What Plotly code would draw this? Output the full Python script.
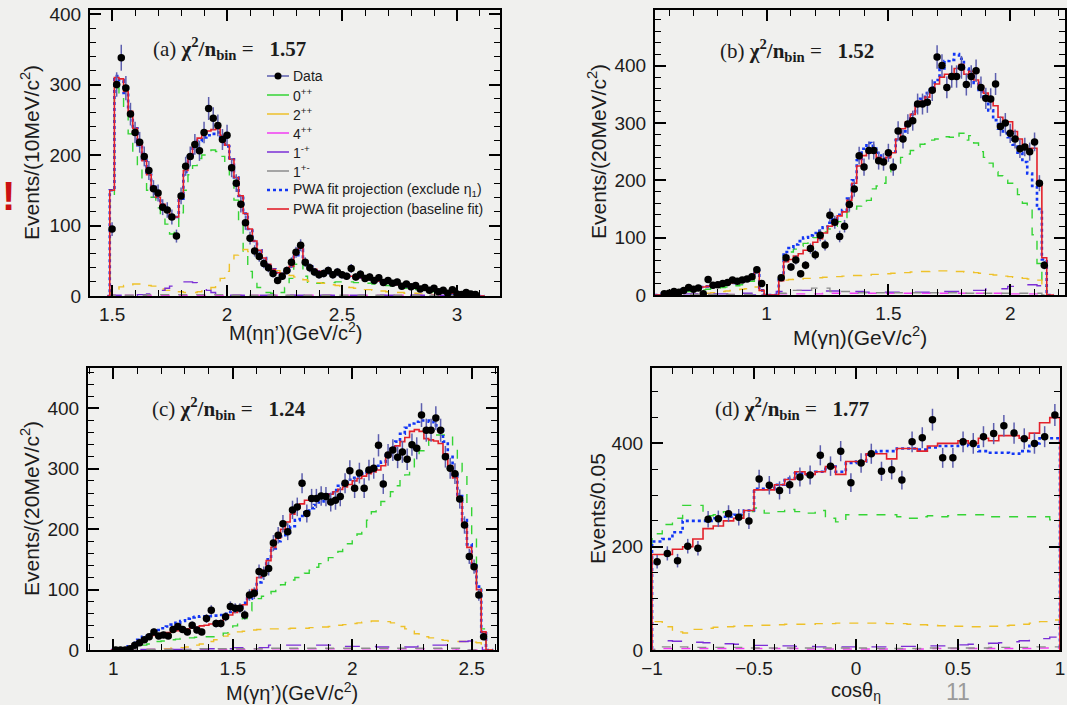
import numpy as np
import plotly.graph_objects as go

# ---------------- data ----------------
# Panel (a): M(eta eta')  fits on bins 1.48 .. 3.12 (step 0.02), data 1.50 .. 3.08
a_fit_start, a_data_start, a_step = 1.48, 1.50, 0.02
a_red = [0,150,310,308,290,262,238,214,192,172,
         155,140,130,120,110,112,140,178,200,214,
         224,230,234,236,237,228,214,194,168,142,
         117,95,78,65,54,45,38,33,31,34,
         42,60,68,50,42,38,35,34,33,32,
         31,30,29,28,27,26,24,23,22,21,
         20,18,17,16,15,14,13,12,11,10,
         9,8,7,6,5,4,4,3,2,2,
         1,0,0]
a_blue = [0,150,312,306,288,262,238,214,192,172,
          155,140,130,120,110,112,138,176,198,212,
          220,225,228,230,232,226,212,194,168,142,
          117,95,78,65,54,45,38,33,31,34,
          42,58,66,50,42,38,35,34,33,32,
          31,30,29,28,27,26,24,23,22,21,
          20,18,17,16,15,14,13,12,11,10,
          9,8,7,6,5,4,4,3,2,2,
          1,0,0]
a_green = [0,140,295,285,262,230,200,180,162,150,
           140,125,115,102,88,90,118,150,172,185,
           195,200,205,207,205,198,185,165,136,100,
           60,35,20,12,8,5,4,3,5,12,
           25,45,50,28,18,18,18,19,19,19,
           20,20,20,20,19,19,18,18,17,17,
           16,15,14,13,12,11,10,9,8,8,
           7,6,5,5,4,3,3,2,2,1,
           1,0,0]
a_yellow = [0,5,10,13,15,16,17,17,16,15,
            14,12,10,8,7,6,6,5,5,5,
            6,7,9,12,17,25,35,47,58,65,
            66,63,58,53,48,43,39,36,33,31,
            29,27,25,23,21,20,19,18,17,16,
            15,14,13,12,11,10,9,9,8,7,
            7,6,6,5,5,4,4,4,3,3,
            3,2,2,2,2,1,1,1,1,0,
            0,0,0]
a_purple = [0,1,1,1,1,1,1,2,2,3,
            4,6,8,11,14,17,19,20,20,19,
            16,12,8,5,3,2,1,1,1,1,
            1,1,1,1,1,1,1,1,1,1,
            1,1,1,1,1,1,1,1,1,1,
            1,1,1,1,1,1,1,1,1,1,
            1,1,1,1,1,1,1,1,1,1,
            1,1,1,1,1,1,1,1,1,1,
            0,0,0]
a_small_x = [1.48, 1.50, 1.8, 2.2, 2.6, 3.0, 3.1]
a_magenta = [0, 1, 1, 1, 1, 1, 0]
a_gray = [0, 1, 2, 1, 1, 1, 0]
a_data = [95,300,338,295,258,232,218,198,178,152,
          146,126,122,112,85,142,184,198,215,206,
          232,266,252,242,222,228,182,160,130,104,
          82,64,56,46,40,32,22,28,36,48,
          62,72,48,40,34,30,32,36,30,34,
          30,28,39,27,31,25,27,22,26,19,
          22,18,20,14,17,13,15,10,12,8,
          11,6,8,4,9,3,2,5,3,2]

# Panel (b): M(gamma eta)  fits on 0.54 .. 2.18, data 0.58 .. 2.14
b_fit_start, b_data_start, b_step = 0.54, 0.58, 0.02
b_red = [0,0,2,4,5,7,9,10,12,13,
         14,15,16,17,18,20,21,23,25,27,
         30,40,8,0,0,0,25,58,62,68,
         72,78,84,92,98,108,120,128,138,145,
         165,195,225,243,250,248,240,233,240,248,
         272,290,302,315,330,338,345,355,368,380,
         385,378,395,402,385,390,375,365,352,342,
         330,310,300,302,285,272,262,256,256,195,
         65,0,0]
b_blue = [0,0,2,4,5,7,9,10,12,13,
          14,15,16,17,18,20,21,23,25,27,
          32,42,8,0,0,0,30,75,82,88,
          94,100,104,108,112,118,126,132,140,148,
          168,200,235,255,265,260,248,238,240,250,
          270,285,300,315,330,342,352,362,375,395,
          408,410,420,412,395,385,370,355,340,322,
          305,290,282,275,262,248,232,212,190,150,
          62,0,0]
b_green = [0,0,1,2,3,4,5,6,7,8,
           9,10,11,12,13,14,15,16,18,20,
           24,32,5,0,0,0,30,70,75,80,
           85,90,95,100,105,110,115,120,128,135,
           145,150,155,158,165,185,190,195,215,222,
           230,240,246,252,258,263,268,270,272,274,
           276,275,272,282,270,278,265,250,240,230,
           215,208,200,195,185,175,160,150,105,55,
           15,0,0]
b_yellow = [0,0,0,0,0,0,0,0,1,1,
            2,3,4,5,6,7,8,9,10,11,
            12,14,3,0,0,0,25,26,27,28,
            28,29,29,30,30,31,31,32,32,33,
            33,34,34,35,35,36,36,37,37,38,
            38,39,39,40,40,41,41,42,42,42,
            42,42,41,41,40,40,39,38,37,36,
            35,34,33,32,31,30,29,28,27,26,
            10,0,0]
b_purple_x = [0.54, 0.60, 0.70, 0.80, 0.90, 0.98, 1.02, 1.06, 1.15, 1.25, 1.35, 1.45,
              1.55, 1.65, 1.75, 1.85, 1.95, 2.03, 2.09, 2.13, 2.16]
b_purple = [0, 1, 2, 2, 3, 0, 0, 6, 8, 7, 6, 5, 5, 5, 6, 8, 11, 15, 18, 16, 0]
b_gray_x = [0.54, 0.70, 0.90, 1.00, 1.06, 1.15, 1.22, 1.30, 1.45, 1.70, 1.90, 2.10, 2.16]
b_gray = [0, 1, 1, 0, 3, 8, 12, 6, 4, 4, 3, 3, 0]
b_magenta_x = [0.54, 0.90, 1.00, 1.06, 1.40, 1.80, 2.13, 2.16]
b_magenta = [0, 1, 0, 2, 3, 3, 2, 0]
b_data = [2,3,6,5,8,13,10,12,2,27,
          17,18,20,22,26,24,26,28,32,44,
          20,None,None,None,30,65,49,61,37,52,
          81,70,104,87,139,127,102,120,158,185,
          243,223,252,252,234,232,248,223,286,272,
          298,304,333,333,336,357,415,400,362,381,
          381,397,367,381,391,362,343,342,368,294,
          300,282,272,255,258,250,267,195,52]

# Panel (c): M(gamma eta')  fits on 0.99 .. 2.59, data 1.01 .. 2.55
c_fit_start, c_data_start, c_step = 0.99, 1.01, 0.02
c_red = [0,0,0,2,5,10,14,18,21,24,
         26,28,29,31,32,34,35,37,38,40,
         41,43,45,48,53,58,62,68,75,88,
         100,120,132,148,170,185,200,212,225,235,
         242,248,252,252,254,256,258,262,266,270,
         274,280,284,288,292,295,298,305,320,330,
         338,345,352,362,365,362,350,348,346,342,
         325,305,285,250,210,170,136,100,30,0,
         0]
c_blue = [0,0,0,2,6,12,17,22,26,30,
          33,36,39,42,45,48,52,54,55,56,
          56,56,57,58,60,63,66,72,78,85,
          95,112,130,150,168,180,188,195,205,215,
          222,228,235,240,246,252,258,265,272,278,
          282,285,288,292,296,300,305,312,322,333,
          345,358,368,375,378,380,380,378,372,365,
          345,320,290,255,215,175,140,105,30,0,
          0]
c_green = [0,0,0,1,3,5,7,8,10,12,
           14,15,16,17,18,19,20,20,21,21,
           22,22,22,23,28,33,40,46,52,65,
           80,85,89,93,97,100,108,112,116,120,
           124,127,132,137,143,148,153,158,163,170,
           176,182,192,201,215,229,238,246,254,262,
           272,282,290,300,318,330,339,348,356,356,
           356,355,340,315,295,240,185,110,35,0,
           0]
c_yellow = [0,0,0,0,0,0,0,1,1,1,
            2,2,2,3,3,4,5,6,8,10,
            12,14,17,20,23,26,28,30,31,32,
            33,34,34,35,35,35,35,35,36,36,
            36,36,37,37,38,38,39,40,41,42,
            43,44,45,46,47,48,48,48,47,45,
            42,39,35,31,27,24,22,20,18,17,
            16,15,15,14,14,14,13,12,10,0,
            0]
c_purple_x = [0.99, 1.20, 1.40, 1.60, 1.70, 1.85, 2.00, 2.20, 2.35, 2.45, 2.52, 2.57]
c_purple = [0, 1, 2, 4, 8, 8, 6, 5, 8, 14, 15, 0]
c_gray_x = [0.99, 1.20, 1.50, 1.80, 2.10, 2.40, 2.57]
c_gray = [0, 1, 2, 3, 3, 3, 0]
c_magenta_x = [0.99, 1.30, 1.80, 2.30, 2.57]
c_magenta = [0, 1, 2, 2, 0]
c_data = [0,0,0,2,8,12,17,22,30,23,
          25,23,34,39,34,30,41,33,30,52,
          66,44,44,55,72,69,69,58,91,94,
          130,127,135,177,190,209,196,232,237,276,
          226,251,251,255,254,245,248,254,276,297,
          268,293,268,298,301,339,275,323,331,319,
          328,316,340,334,389,364,364,384,364,320,
          301,292,250,207,155,138,91,22]

# Panel (d): cos(theta_eta), 40 bins of 0.05 (plus empty edge bins)
d_fit_start, d_data_start, d_step = -1.025, -0.975, 0.05
d_red = [0,
         185,185,195,200,215,235,240,250,255,270,
         310,310,320,330,345,340,345,355,340,365,
         365,380,380,370,390,390,385,395,400,400,
         405,400,410,405,415,415,410,420,440,450,
         0]
d_blue = [0,
          210,215,228,250,250,250,255,258,262,270,
          312,312,320,332,342,340,345,355,345,362,
          365,378,385,385,390,390,388,392,395,395,
          398,395,385,382,382,380,385,400,410,410,
          0]
d_green = [0,
           225,243,255,280,280,260,262,268,262,268,
           275,265,268,272,268,265,270,255,248,262,
           262,262,262,262,258,255,258,260,258,260,
           262,262,262,258,258,258,258,258,258,252,
           0]
d_yellow = [0,
            55,45,35,33,40,42,44,45,46,47,
            48,48,49,50,50,50,51,51,52,52,
            52,52,52,51,51,50,49,48,47,46,
            46,45,45,46,47,48,50,52,55,58,
            0]
d_purple = [0,
            18,18,17,16,15,14,13,12,11,10,
            9,9,8,8,7,7,6,6,6,6,
            6,6,6,6,7,7,7,8,8,9,
            10,11,12,13,14,16,18,20,22,25,
            0]
d_small_x = [-1.025, -0.95, -0.7, -0.4, -0.1, 0.2, 0.5, 0.8, 0.975, 1.025]
d_gray = [0, 6, 5, 4, 4, 3, 4, 5, 6, 0]
d_magenta = [0, 3, 3, 3, 2, 2, 3, 3, 4, 0]
d_data = [171,187,173,201,197,253,254,264,257,250,
          331,319,309,320,335,339,377,356,385,324,
          362,380,346,349,329,403,411,446,372,372,
          403,400,413,419,434,420,409,400,413,455]

legend_labels = ["Data", "0<sup>++</sup>", "2<sup>++</sup>", "4<sup>++</sup>",
                 "1<sup>-+</sup>", "1<sup>+-</sup>",
                 "PWA fit projection (exclude η<sub>1</sub>)",
                 "PWA fit projection (baseline fit)"]

# ---------------- style ----------------
GREEN = "#35d435"
YELLOW = "#eec12a"
MAGENTA = "#f23cf2"
PURPLE = "#7b2fd6"
GRAY = "#8c8c8c"
BLUE = "#1236f5"
RED = "#e3212b"
ERR = "#5d5fae"
TXT = "#1c1c1c"
SANS = "Liberation Sans, Arial, sans-serif"
SERIF = "Liberation Serif, Times New Roman, serif"
W, H = 1067, 705


def centers(start, n, step):
    return np.round(start + step * np.arange(n), 4)


def arr(v):
    return np.array([np.nan if x is None else x for x in v], dtype=float)


fig = go.Figure()


def add_panel(k, step, data_start, comps, data):
    xa, ya = ("x", "y") if k == 1 else (f"x{k}", f"y{k}")
    for xs, ys, color, dash, width in comps:
        if isinstance(xs, (int, float)):
            xs = centers(xs, len(ys), step)
        fig.add_trace(go.Scatter(x=xs, y=ys, mode="lines", line_shape="hvh",
                                 line=dict(color=color, dash=dash, width=width),
                                 xaxis=xa, yaxis=ya, showlegend=False, hoverinfo="skip"))
    d = arr(data)
    fig.add_trace(go.Scatter(x=centers(data_start, len(d), step), y=d, mode="markers",
                             marker=dict(color="black", size=7.5),
                             error_y=dict(type="data", array=np.sqrt(d), color=ERR,
                                          thickness=1.5, width=0),
                             xaxis=xa, yaxis=ya, showlegend=False))


def comps(start, green, yellow, magenta, purple, gray, blue, red):
    return [(start, green, GREEN, "dash", 1.4),
            (start, yellow, YELLOW, "dash", 1.4),
            (magenta[0], magenta[1], MAGENTA, "dash", 1.4),
            (purple[0], purple[1], PURPLE, "longdash", 1.4),
            (gray[0], gray[1], GRAY, "dash", 1.4),
            (start, blue, BLUE, "dot", 2.6),
            (start, red, RED, "solid", 1.6)]


add_panel(1, a_step, a_data_start,
          comps(a_fit_start, a_green, a_yellow, (a_small_x, a_magenta),
                (a_fit_start, a_purple), (a_small_x, a_gray), a_blue, a_red), a_data)
add_panel(2, b_step, b_data_start,
          comps(b_fit_start, b_green, b_yellow, (b_magenta_x, b_magenta),
                (b_purple_x, b_purple), (b_gray_x, b_gray), b_blue, b_red), b_data)
add_panel(3, c_step, c_data_start,
          comps(c_fit_start, c_green, c_yellow, (c_magenta_x, c_magenta),
                (c_purple_x, c_purple), (c_gray_x, c_gray), c_blue, c_red), c_data)
add_panel(4, d_step, d_data_start,
          comps(d_fit_start, d_green, d_yellow, (d_small_x, d_magenta),
                (d_fit_start, d_purple), (d_small_x, d_gray), d_blue, d_red), d_data)


def axis(rng, dtick, mdtick, domain, anchor, standoff):
    return dict(range=rng, domain=domain, anchor=anchor, showline=True, linecolor="black",
                linewidth=2, mirror="ticks", ticks="inside", ticklen=11, tickwidth=1.5,
                tickcolor="black", dtick=dtick, tick0=0, ticklabelstandoff=standoff,
                minor=dict(ticks="inside", ticklen=6, dtick=mdtick, tickwidth=1.3,
                           tickcolor="black", showgrid=False),
                showgrid=False, zeroline=False, fixedrange=True, automargin=False,
                tickfont=dict(family=SANS, size=19, color=TXT))


def xd(l, r):
    return [l / W, r / W]


def yd(top, bottom):
    return [1 - bottom / H, 1 - top / H]


fig.update_layout(
    width=W, height=H, autosize=False, showlegend=False,
    margin=dict(l=0, r=0, t=0, b=0, pad=0),
    paper_bgcolor="#f0f0ee", plot_bgcolor="rgba(0,0,0,0)",
    xaxis=axis([1.404, 3.187], 0.5, 0.1, xd(90, 500), "y", 0),
    yaxis=axis([0, 405.7], 100, 20, yd(10, 296), "x", 3),
    xaxis2=axis([0.542, 2.225], 0.5, 0.1, xd(655, 1065), "y2", 0),
    yaxis2=axis([0, 497], 100, 20, yd(10, 295), "x2", 3),
    xaxis3=axis([0.894, 2.606], 0.5, 0.1, xd(88, 497), "y3", 0),
    yaxis3=axis([0, 467], 100, 20, yd(368, 650), "x3", 3),
    xaxis4=axis([-1.0002, 1.0002], 0.5, 0.1, xd(652, 1060), "y4", 0),
    yaxis4=axis([0, 546], 200, 50, yd(368, 650), "x4", 3),
)


def ann(text, x, y, size, family=SANS, angle=0, color=TXT, xanchor="center"):
    fig.add_annotation(text=text, x=x / W, y=1 - y / H, xref="paper", yref="paper",
                       showarrow=False, textangle=angle, xanchor=xanchor, yanchor="middle",
                       font=dict(family=family, size=size, color=color))


# legend drawn in panel (a) (paper coordinates)
leg_styles = [(ERR, "solid", 1.5), (GREEN, "solid", 1.5), (YELLOW, "solid", 1.5),
              (MAGENTA, "solid", 1.5), (PURPLE, "solid", 1.5), (GRAY, "solid", 1.5),
              (BLUE, "dot", 2.6), (RED, "solid", 1.6)]
for i, (label, (col, dash, wd)) in enumerate(zip(legend_labels, leg_styles)):
    yy = 76 + 19 * i
    fig.add_shape(type="line", xref="paper", yref="paper",
                  x0=267 / W, x1=289 / W, y0=1 - yy / H, y1=1 - yy / H,
                  line=dict(color=col, dash=dash, width=wd))
    if i == 0:
        fig.add_shape(type="circle", xref="paper", yref="paper",
                      x0=274.5 / W, x1=281.5 / W, y0=1 - (yy + 3.5) / H, y1=1 - (yy - 3.5) / H,
                      fillcolor="black", line=dict(color="black", width=0))
    ann(label, 291, yy, 14, xanchor="left")

# panel labels
nb = "\u00a0"
ann(f"(a) <b>χ<sup>2</sup>/n<sub>bin</sub></b> ={nb}{nb}{nb}<b>1.57</b>", 151, 49, 21, SERIF, xanchor="left")
ann(f"(b) <b>χ<sup>2</sup>/n<sub>bin</sub></b> ={nb}{nb}{nb}<b>1.52</b>", 718, 51, 21, SERIF, xanchor="left")
ann(f"(c) <b>χ<sup>2</sup>/n<sub>bin</sub></b> ={nb}{nb}{nb}<b>1.24</b>", 150, 409, 21, SERIF, xanchor="left")
ann(f"(d) <b>χ<sup>2</sup>/n<sub>bin</sub></b> ={nb}{nb}{nb}<b>1.77</b>", 713, 409, 21, SERIF, xanchor="left")

# axis titles
ann("Events/(10MeV/c<sup>2</sup>)", 30, 153, 21, angle=-90)
ann("Events/(20MeV/c<sup>2</sup>)", 597, 152, 21, angle=-90)
ann("Events/(20MeV/c<sup>2</sup>)", 30, 509, 21, angle=-90)
ann("Events/0.05", 597, 509, 21, angle=-90)
ann("M(ηη’)(GeV/c<sup>2</sup>)", 295, 331, 20)
ann("M(γη)(GeV/c<sup>2</sup>)", 860, 336, 21)
ann("M(γη’)(GeV/c<sup>2</sup>)", 292, 691, 20)
ann("cosθ<sub>η</sub>", 856, 691, 20)

# slide decorations
ann("11", 958, 692, 23, color="#9a9a9a")
ann("<b>!</b>", 0, 196, 40, color="#cc1111", xanchor="left")

fig.write_html("out.html")
